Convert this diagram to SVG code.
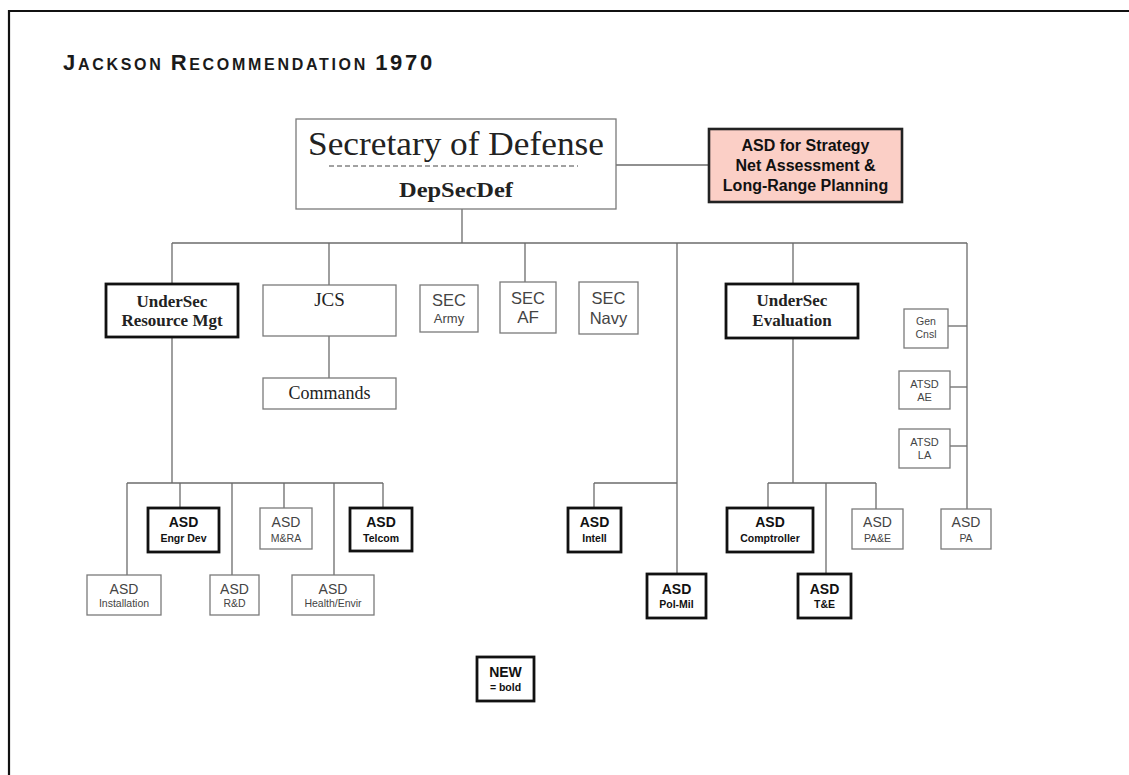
<svg xmlns="http://www.w3.org/2000/svg" width="1129" height="775" viewBox="0 0 1129 775">
<style>
.conn{stroke:#6b6b6b;stroke-width:1.3;fill:none}
.box{fill:#fff;stroke:#7a7a7a;stroke-width:1.3}
.bbox{fill:#fff;stroke:#111;stroke-width:2.8}
.serif{font-family:"Liberation Serif","Times New Roman",serif;fill:#222}
.sans{font-family:"Liberation Sans",Arial,sans-serif;fill:#444;text-anchor:middle}
.bsans{font-family:"Liberation Sans",Arial,sans-serif;fill:#111;font-weight:bold;text-anchor:middle}
.big{font-size:14px}
.sm{font-size:10.5px}
</style>
<rect x="0" y="0" width="1129" height="775" fill="#fff"/>
<path d="M9 775 V11 H1129" fill="none" stroke="#111" stroke-width="2.2"/>
<text x="63" y="70" font-family="'Liberation Sans',Arial,sans-serif" font-weight="bold" fill="#1a1a1a" font-size="16" letter-spacing="2.7"><tspan font-size="22">J</tspan>ACKSON <tspan font-size="22">R</tspan>ECOMMENDATION <tspan font-size="22">1970</tspan></text>

<g id="connectors">
<path class="conn" d="M616 165 H709"/>
<path class="conn" d="M462 209 V243"/>
<path class="conn" d="M172 243 H967"/>
<path class="conn" d="M172 243 V284"/>
<path class="conn" d="M329 243 V285"/>
<path class="conn" d="M525 243 V282"/>
<path class="conn" d="M677 243 V574"/>
<path class="conn" d="M793 243 V284"/>
<path class="conn" d="M967 243 V509"/>
<path class="conn" d="M329 336 V378"/>
<path class="conn" d="M172 337 V483"/>
<path class="conn" d="M127 483 H383"/>
<path class="conn" d="M127 483 V575"/>
<path class="conn" d="M180 483 V508"/>
<path class="conn" d="M232 483 V575"/>
<path class="conn" d="M284 483 V508"/>
<path class="conn" d="M334 483 V575"/>
<path class="conn" d="M383 483 V508"/>
<path class="conn" d="M594 483 H677"/>
<path class="conn" d="M594 483 V508"/>
<path class="conn" d="M793 338 V483"/>
<path class="conn" d="M768 483 H876"/>
<path class="conn" d="M768 483 V508"/>
<path class="conn" d="M826 483 V574"/>
<path class="conn" d="M876 483 V509"/>
<path class="conn" d="M948 326 H967"/>
<path class="conn" d="M950 387 H967"/>
<path class="conn" d="M950 446 H967"/>
</g>

<g id="secdef">
<rect class="box" x="296" y="119" width="320" height="90"/>
<text class="serif" x="456" y="155" font-size="33" text-anchor="middle" textLength="296" lengthAdjust="spacingAndGlyphs">Secretary of Defense</text>
<line x1="329" y1="166" x2="578" y2="166" stroke="#444" stroke-width="1" stroke-dasharray="5,3"/>
<text class="serif" x="456" y="197" font-size="21" font-weight="bold" text-anchor="middle" textLength="114" lengthAdjust="spacingAndGlyphs">DepSecDef</text>
</g>

<g id="asd-strategy">
<rect x="709" y="129" width="193" height="73" fill="#fbcfc6" stroke="#222" stroke-width="2.6"/>
<text class="bsans" x="805.5" y="151" font-size="16">ASD for Strategy</text>
<text class="bsans" x="805.5" y="171" font-size="16">Net Assessment &amp;</text>
<text class="bsans" x="805.5" y="191" font-size="16">Long-Range Planning</text>
</g>

<g id="undersec-rm">
<rect class="bbox" x="106" y="284" width="132" height="53"/>
<text class="serif" x="172" y="307" font-size="17" font-weight="bold" text-anchor="middle">UnderSec</text>
<text class="serif" x="172" y="326" font-size="17" font-weight="bold" text-anchor="middle">Resource Mgt</text>
</g>

<g id="jcs">
<rect class="box" x="263" y="285" width="133" height="51"/>
<text class="serif" x="329.5" y="306" font-size="19" text-anchor="middle">JCS</text>
</g>

<g id="commands">
<rect class="box" x="263" y="378" width="133" height="31"/>
<text class="serif" x="329.5" y="399" font-size="18" text-anchor="middle">Commands</text>
</g>

<g id="sec-army">
<rect class="box" x="420" y="285" width="58" height="47"/>
<text class="sans" x="449" y="306" font-size="16.5">SEC</text>
<text class="sans" x="449" y="323" font-size="13">Army</text>
</g>

<g id="sec-af">
<rect class="box" x="500" y="282" width="56" height="51"/>
<text class="sans" x="528" y="304" font-size="16.5">SEC</text>
<text class="sans" x="528" y="323" font-size="17">AF</text>
</g>

<g id="sec-navy">
<rect class="box" x="579" y="282" width="59" height="52"/>
<text class="sans" x="608.5" y="304" font-size="16.5">SEC</text>
<text class="sans" x="608.5" y="324" font-size="16.5">Navy</text>
</g>

<g id="undersec-eval">
<rect class="bbox" x="726" y="284" width="132" height="54"/>
<text class="serif" x="792" y="306" font-size="17" font-weight="bold" text-anchor="middle">UnderSec</text>
<text class="serif" x="792" y="326" font-size="17" font-weight="bold" text-anchor="middle">Evaluation</text>
</g>

<g id="gen-cnsl">
<rect class="box" x="904" y="309" width="44" height="39"/>
<text class="sans" x="926" y="325" font-size="10.5">Gen</text>
<text class="sans" x="926" y="338" font-size="10.5">Cnsl</text>
</g>

<g id="atsd-ae">
<rect class="box" x="899" y="371" width="51" height="38"/>
<text class="sans" x="924.5" y="388" font-size="11">ATSD</text>
<text class="sans" x="924.5" y="401" font-size="11">AE</text>
</g>

<g id="atsd-la">
<rect class="box" x="899" y="429" width="51" height="39"/>
<text class="sans" x="924.5" y="446" font-size="11">ATSD</text>
<text class="sans" x="924.5" y="459" font-size="11">LA</text>
</g>

<g id="asd-installation">
<rect class="box" x="87" y="575" width="74" height="40"/>
<text class="sans big" x="124" y="594">ASD</text>
<text class="sans sm" x="124" y="607">Installation</text>
</g>

<g id="asd-engr-dev">
<rect class="bbox" x="148" y="508" width="71" height="44"/>
<text class="bsans big" x="183.5" y="527">ASD</text>
<text class="bsans sm" x="183.5" y="542">Engr Dev</text>
</g>

<g id="asd-rd">
<rect class="box" x="210" y="575" width="49" height="40"/>
<text class="sans big" x="234.5" y="594">ASD</text>
<text class="sans sm" x="234.5" y="607">R&amp;D</text>
</g>

<g id="asd-mra">
<rect class="box" x="260" y="508" width="52" height="41"/>
<text class="sans big" x="286" y="527">ASD</text>
<text class="sans sm" x="286" y="542">M&amp;RA</text>
</g>

<g id="asd-health">
<rect class="box" x="292" y="575" width="82" height="40"/>
<text class="sans big" x="333" y="594">ASD</text>
<text class="sans sm" x="333" y="607">Health/Envir</text>
</g>

<g id="asd-telcom">
<rect class="bbox" x="350" y="508" width="62" height="43"/>
<text class="bsans big" x="381" y="527">ASD</text>
<text class="bsans sm" x="381" y="542">Telcom</text>
</g>

<g id="asd-intell">
<rect class="bbox" x="568" y="508" width="53" height="44"/>
<text class="bsans big" x="594.5" y="527">ASD</text>
<text class="bsans sm" x="594.5" y="542">Intell</text>
</g>

<g id="asd-polmil">
<rect class="bbox" x="647" y="574" width="59" height="44"/>
<text class="bsans big" x="676.5" y="594">ASD</text>
<text class="bsans sm" x="676.5" y="608">Pol-Mil</text>
</g>

<g id="asd-comptroller">
<rect class="bbox" x="727" y="508" width="86" height="44"/>
<text class="bsans big" x="770" y="527">ASD</text>
<text class="bsans sm" x="770" y="542">Comptroller</text>
</g>

<g id="asd-te">
<rect class="bbox" x="798" y="574" width="53" height="44"/>
<text class="bsans big" x="824.5" y="594">ASD</text>
<text class="bsans sm" x="824.5" y="608">T&amp;E</text>
</g>

<g id="asd-pae">
<rect class="box" x="852" y="509" width="51" height="40"/>
<text class="sans big" x="877.5" y="527">ASD</text>
<text class="sans sm" x="877.5" y="542">PA&amp;E</text>
</g>

<g id="asd-pa">
<rect class="box" x="941" y="509" width="50" height="40"/>
<text class="sans big" x="966" y="527">ASD</text>
<text class="sans sm" x="966" y="542">PA</text>
</g>

<g id="legend-new">
<rect class="bbox" x="477" y="657" width="57" height="44"/>
<text class="bsans big" x="505.5" y="677">NEW</text>
<text class="bsans sm" x="505.5" y="691">= bold</text>
</g>
</svg>
